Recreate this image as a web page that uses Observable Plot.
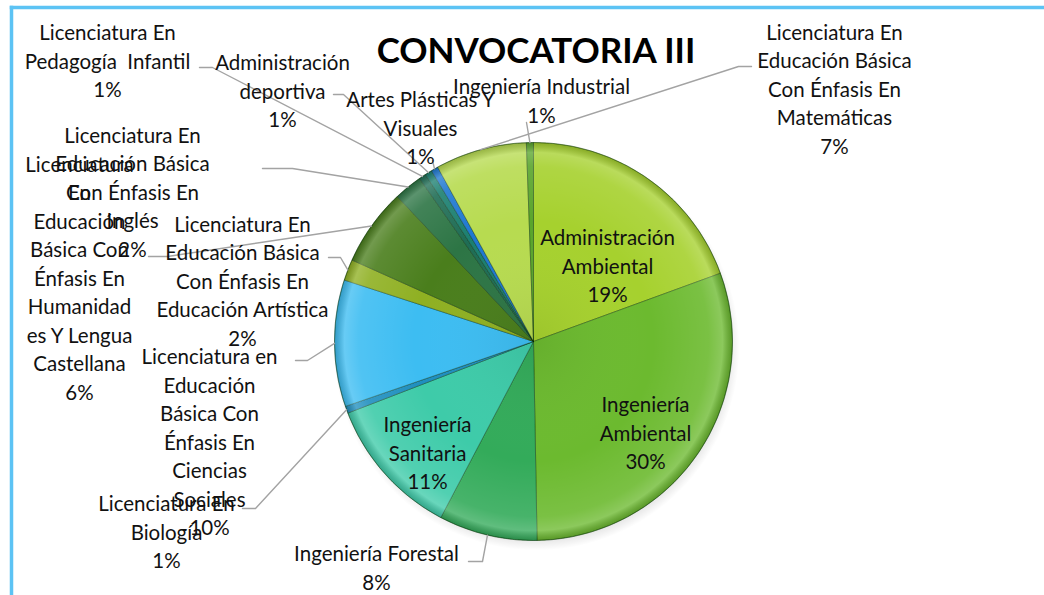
<!DOCTYPE html>
<html><head><meta charset="utf-8">
<script src="https://cdn.jsdelivr.net/npm/d3@7"></script>
<script src="https://cdn.jsdelivr.net/npm/@observablehq/plot@0.6"></script>
<style>
body{margin:0;background:#fff;}
svg text{white-space:pre;}
</style>
</head><body><div id="chart"></div>
<script>
// ---- data ----
const programs = [
  "Administración Ambiental","Ingeniería Ambiental","Ingeniería Forestal","Ingeniería Sanitaria",
  "Licenciatura En Biología","Licenciatura en Educación Básica Con Énfasis En Ciencias Sociales",
  "Licenciatura En Educación Básica Con Énfasis En Educación Artística",
  "Licenciatura En Educación Básica Con Énfasis En Humanidades Y Lengua Castellana",
  "Licenciatura En Educación Básica Con Énfasis En Inglés","Licenciatura En Pedagogía Infantil",
  "Administración deportiva","Artes Plásticas Y Visuales",
  "Licenciatura En Educación Básica Con Énfasis En Matemáticas","Ingeniería Industrial"
];
const counts = [34, 53, 14, 20, 1, 18, 3, 11, 4, 1, 1, 1, 13, 1];
const labelLines = [
  "Administración\nAmbiental","Ingeniería\nAmbiental","Ingeniería Forestal","Ingeniería\nSanitaria",
  "Licenciatura En\nBiología","Licenciatura en\nEducación\nBásica Con\nÉnfasis En\nCiencias\nSociales",
  "Licenciatura En\nEducación Básica\nCon Énfasis En\nEducación Artística",
  "Licenciatura\nEn\nEducación\nBásica Con\nÉnfasis En\nHumanidad\nes Y Lengua\nCastellana",
  "Licenciatura En\nEducación Básica\nCon Énfasis En\nInglés","Licenciatura En\nPedagogía  Infantil",
  "Administración\ndeportiva","Artes Plásticas Y\nVisuales",
  "Licenciatura En\nEducación Básica\nCon Énfasis En\nMatemáticas","Ingeniería Industrial"
];
const colors = ["#a6d12e","#6cba2f","#33ab5a","#3ecba9","#1f8fbf","#3dbdf2","#8fb022",
                "#4a7e1c","#2d7545","#1f6d55","#1b7f70","#1e78d0","#b7db50","#5aa52c"];
const title = "CONVOCATORIA III";

// ---- layout (pixel units; scales are identity) ----
const W = 1044, H = 595, cx = 533, cy = 341, R = 199;
const labelLayout = [
  {tx:607, ty:264, lead:null},
  {tx:645, ty:431, lead:null},
  {tx:376, ty:566, lead:[468,561,482]},
  {tx:427, ty:451, lead:null},
  {tx:166, ty:530, lead:[242,508,255]},
  {tx:209, ty:440, lead:[295,360,307]},
  {tx:242, ty:279, lead:[328,257,340]},
  {tx:79,  ty:276, lead:[148,256,167]},
  {tx:132, ty:190, lead:[262,168,292]},
  {tx:107, ty:59,  lead:[199,67,212]},
  {tx:282, ty:89,  lead:[333,94,343]},
  {tx:420, ty:126, lead:[432,160,432]},
  {tx:834, ty:87,  lead:[751,66,738]},
  {tx:541, ty:99,  lead:[526,122,526]}
];

const total = d3.sum(counts);
const arcs = d3.pie().sort(null).value(d => d)(counts);
const pt = (a, r) => ({x: cx + r * Math.sin(a), y: cy - r * Math.cos(a)});

const slicePts = [];
arcs.forEach((a, i) => {
  const name = programs[i];
  slicePts.push({name, ...pt(0, 0)});
  const n = Math.max(2, Math.ceil((a.endAngle - a.startAngle) / 0.005));
  for (let k = 0; k <= n; k++) {
    const t = a.startAngle + (a.endAngle - a.startAngle) * k / n;
    slicePts.push({name, ...pt(t, R)});
  }
  slicePts.push({name, ...pt(0, 0)});
});

const labels = programs.map((name, i) => ({
  name,
  text: labelLines[i] + "\n" + Math.round(counts[i] / total * 100) + "%",
  x: labelLayout[i].tx, y: labelLayout[i].ty
}));

const leaders = [];
arcs.forEach((a, i) => {
  const L = labelLayout[i].lead;
  if (!L) return;
  const mid = (a.startAngle + a.endAngle) / 2;
  const e = pt(mid, R);
  leaders.push({name: programs[i], x: L[0], y: L[1]});
  leaders.push({name: programs[i], x: L[2], y: L[1]});
  leaders.push({name: programs[i], x: e.x, y: e.y});
});

const font = "Lato, 'Noto Sans', sans-serif";

const chart = Plot.plot({
  width: W, height: H,
  marginTop: 7, marginLeft: 11, marginRight: 0, marginBottom: 0,
  x: {domain: [11, W], axis: null},
  y: {domain: [H, 7], axis: null},
  color: {domain: programs, range: colors},
  style: {fontFamily: font, background: "#fff"},
  marks: [
    Plot.dot([0], {x: () => cx + 3, y: () => cy + 6, r: R + 4, fill: "url(#pieShadow)", stroke: "none"}),
    Plot.line(slicePts, {x: "x", y: "y", z: "name", fill: "name",
      stroke: "rgba(0,40,0,0.35)", strokeWidth: 1, curve: "linear"}),
    Plot.dot([0], {x: () => cx, y: () => cy, r: R, fill: "url(#pieShade)", stroke: "rgba(0,50,0,0.35)", strokeWidth: 1}),
    Plot.line(leaders, {x: "x", y: "y", z: "name", stroke: "#a3a3a3", strokeWidth: 1.4}),
    Plot.text(labels, {x: "x", y: "y", text: "text", fontSize: 20.5, lineHeight: 1.39,
      fill: "#111", textAnchor: "middle", lineAnchor: "middle", fontFamily: font}),
    Plot.text([title], {frameAnchor: "top", dx: 8, dy: 44, text: d => d, fontSize: 35,
      fontWeight: "bold", fill: "#000", lineAnchor: "middle", fontFamily: font}),
    Plot.frame({anchor: "left", stroke: "#5cc3f4", strokeWidth: 3.5}),
    Plot.frame({anchor: "top", stroke: "#5cc3f4", strokeWidth: 3.5})
  ]
});
const defs = document.createElementNS("http://www.w3.org/2000/svg", "defs");
defs.innerHTML = `
  <radialGradient id="pieShade" cx="50%" cy="50%" r="50%">
    <stop offset="0%" stop-color="#000" stop-opacity="0.06"/>
    <stop offset="60%" stop-color="#fff" stop-opacity="0.0"/>
    <stop offset="88%" stop-color="#fff" stop-opacity="0.10"/>
    <stop offset="95%" stop-color="#fff" stop-opacity="0.22"/>
    <stop offset="100%" stop-color="#000" stop-opacity="0.18"/>
  </radialGradient>
  <radialGradient id="pieShadow" cx="50%" cy="50%" r="50%">
    <stop offset="90%" stop-color="#000" stop-opacity="0.18"/>
    <stop offset="100%" stop-color="#000" stop-opacity="0"/>
  </radialGradient>`;
chart.insertBefore(defs, chart.firstChild);
document.getElementById("chart").append(chart);
</script>
</body></html>
